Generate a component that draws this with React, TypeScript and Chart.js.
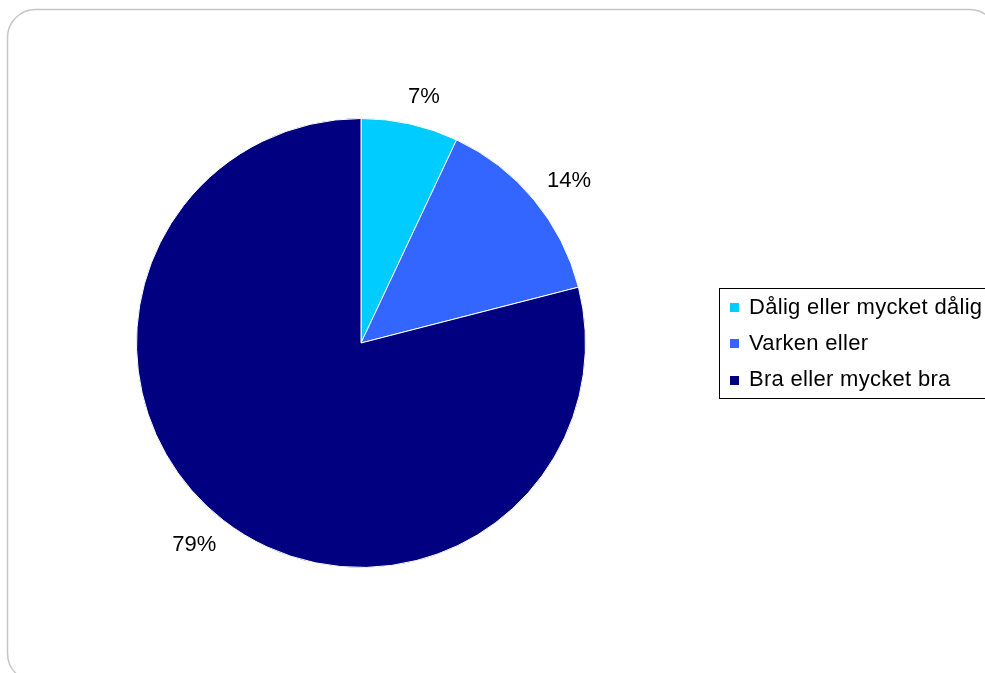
import React, { useEffect, useRef } from "react";
import { Chart, registerables } from "chart.js";

Chart.register(...registerables);

const categories = ["Dålig eller mycket dålig", "Varken eller", "Bra eller mycket bra"];
const values = [7, 14, 79];
const colors = ["#00CCFF", "#3366FF", "#000080"];

const FONT = '22px "Liberation Sans", Arial, sans-serif';
const LABEL_ANGLE_SHIFT = 0.03;

const framePlugin = {
  id: "frame",
  beforeDraw(chart: any) {
    const ctx = chart.ctx;
    ctx.save();
    ctx.fillStyle = "#ffffff";
    ctx.fillRect(0, 0, chart.width, chart.height);
    const x = 7.5, y = 9.5, w = 990, h = 672, r = 28;
    ctx.strokeStyle = "#c6c6c6";
    ctx.lineWidth = 1.5;
    ctx.beginPath();
    ctx.moveTo(x + r, y);
    ctx.lineTo(x + w - r, y);
    ctx.arcTo(x + w, y, x + w, y + r, r);
    ctx.lineTo(x + w, y + h - r);
    ctx.arcTo(x + w, y + h, x + w - r, y + h, r);
    ctx.lineTo(x + r, y + h);
    ctx.arcTo(x, y + h, x, y + h - r, r);
    ctx.lineTo(x, y + r);
    ctx.arcTo(x, y, x + r, y, r);
    ctx.closePath();
    ctx.stroke();
    ctx.restore();
  },
};

const labelPlugin = {
  id: "pctLabels",
  afterDatasetsDraw(chart: any) {
    const ctx = chart.ctx;
    const meta = chart.getDatasetMeta(0);
    const data = chart.data.datasets[0].data as number[];
    const total = data.reduce((a, b) => a + b, 0);
    ctx.save();
    ctx.font = FONT;
    ctx.fillStyle = "#000";
    ctx.textAlign = "center";
    ctx.textBaseline = "middle";
    meta.data.forEach((arc: any, i: number) => {
      const p = arc.getProps(["x", "y", "startAngle", "endAngle", "outerRadius"], true);
      const mid = (p.startAngle + p.endAngle) / 2 + LABEL_ANGLE_SHIFT;
      const txt = Math.round((data[i] / total) * 100) + "%";
      const tw = ctx.measureText(txt).width;
      const c = Math.cos(mid), s = Math.sin(mid);
      const dist = p.outerRadius + 15 + (tw / 2) * Math.abs(c) + 11 * Math.abs(s);
      ctx.fillText(txt, p.x + dist * c, p.y + dist * s);
    });
    ctx.restore();
  },
};

const legendPlugin = {
  id: "boxLegend",
  afterDraw(chart: any) {
    const ctx = chart.ctx;
    const labels = chart.data.labels as string[];
    const bg = chart.data.datasets[0].backgroundColor as string[];
    const left = 719.5, top = 288.5, width = 320, rowH = 36.3;
    const height = 110;
    ctx.save();
    ctx.fillStyle = "#fff";
    ctx.fillRect(left, top, width, height);
    ctx.strokeStyle = "#000";
    ctx.lineWidth = 1;
    ctx.strokeRect(left, top, width, height);
    ctx.font = FONT;
    try { (ctx as any).letterSpacing = "0.3px"; } catch (e) {}
    ctx.textAlign = "left";
    ctx.textBaseline = "middle";
    labels.forEach((lab, i) => {
      const yc = top + 19 + i * rowH;
      ctx.fillStyle = bg[i];
      ctx.fillRect(730, Math.round(yc - 4.5), 9, 9);
      ctx.fillStyle = "#000";
      ctx.fillText(lab, 749, yc);
    });
    ctx.restore();
  },
};

export default function App() {
  const ref = useRef<HTMLCanvasElement | null>(null);
  useEffect(() => {
    if (!ref.current) return;
    const chart = new Chart(ref.current, {
      type: "pie",
      data: {
        labels: categories,
        datasets: [
          {
            data: values,
            backgroundColor: colors,
            borderColor: "#ffffff",
            borderWidth: 1,
          },
        ],
      },
      options: {
        responsive: false,
        animation: false,
        layout: { padding: { left: 136, top: 118, right: 414, bottom: 122 } },
        plugins: {
          legend: { display: false },
          tooltip: { enabled: false },
        },
      },
      plugins: [framePlugin, labelPlugin, legendPlugin],
    });
    return () => chart.destroy();
  }, []);
  return (
    <div
      style={{
        position: "fixed",
        left: 0,
        top: 0,
        width: 985,
        height: 673,
        overflow: "hidden",
        background: "#fff",
      }}
    >
      <canvas ref={ref} width={1000} height={690} style={{ display: "block", width: 1000, height: 690 }} />
    </div>
  );
}
